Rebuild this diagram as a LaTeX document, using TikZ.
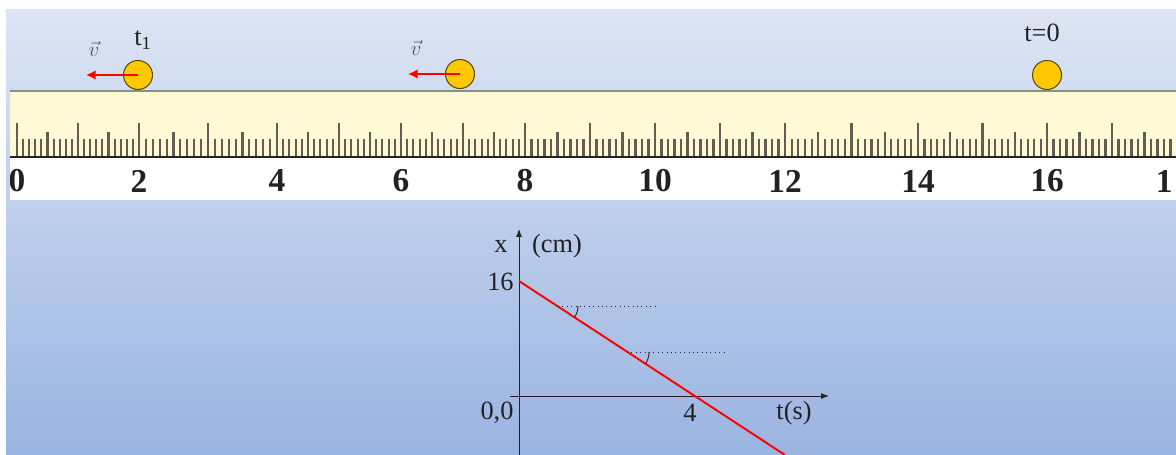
\documentclass[tikz,border=0pt]{standalone}
\usepackage{fontspec}
\setmainfont{Liberation Serif}
\usetikzlibrary{arrows.meta,positioning}
\definecolor{rlink}{HTML}{222222}
\definecolor{rlgray}{HTML}{555555}
\definecolor{pantop}{HTML}{DDE5F4}
\definecolor{panbot}{HTML}{9AB4E1}
\definecolor{rlcream}{HTML}{FFF9D6}
\definecolor{rltick}{HTML}{625D50}
\definecolor{ballfill}{HTML}{FFC800}
\definecolor{ballrim}{HTML}{5C4B10}
\tikzset{
  rl text/.style={font=\fontsize{15}{16}\selectfont, text=rlink, inner sep=0pt},
  rl num/.style={font=\fontsize{19}{20}\selectfont\bfseries, text=rlink, inner sep=0pt},
  rl ball/.style={circle, draw=ballrim, fill=ballfill, line width=0.6pt,
    minimum size=0.58cm, inner sep=0pt},
  rl vel/.style={-{Latex[length=5.5pt,width=5.5pt]}, draw=red, line width=1.6pt},
  rl vlabel/.style={font=\fontsize{13}{13}\selectfont, text=rlgray, inner sep=0pt},
  rl axis/.style={-{Latex[length=4.5pt,width=3.4pt]}, draw=rlink, line width=0.5pt},
  rl graph/.style={draw=red, line width=1.1pt},
  rl guide/.style={draw=rlink, dotted, line width=0.5pt},
  rl tick/.style={draw=rltick, line width=1.2pt}
}

\begin{document}
\begin{tikzpicture}[x=0.02cm, y=-0.02cm]
  \useasboundingbox (0,0) rectangle (1176,454);
  % background panel
  \fill[white] (0,0) rectangle (1176,454);
  \fill[top color=pantop, bottom color=panbot] (6,9) rectangle (1176,454);

  % ruler
  \begin{scope}
    \clip (10,80) rectangle (1176,200);
    \fill[rlcream] (10,91) rectangle (1176,157);
    \fill[white] (10,157) rectangle (1176,200);
    \draw[draw=black!45, line width=1.1pt] (10,91) -- (1176,91);
    \foreach \a/\b [count=\i from 0] in {17/139,139/277,277/401,401/525,525/655,
        655/785,785/918,918/1047,1047/1177} {
      \foreach \k in {0,...,19} {
        \pgfmathsetmacro{\tx}{\a+(\b-\a)*\k/20}
        \pgfmathsetmacro{\ty}{ifthenelse(mod(\k,10)==0,123,ifthenelse(mod(\k,5)==0,132,139))}
        \draw[rl tick] (\tx,157) -- (\tx,\ty);
      }
      \pgfmathtruncatemacro{\n}{2*\i}
      \node[rl num] (n\n) at (\a,181) {\n};
    }
    \node[rl num, anchor=east] (n18) at (1173,181) {1};
    \draw[draw=rlink, line width=1.3pt] (10,157) -- (1176,157);
  \end{scope}

  % balls and velocities
  \node[rl ball] (b1) at (138,75) {};
  \node[rl ball] (b2) at (460,74) {};
  \node[rl ball] (b0) at (1047,75) {};
  \coordinate (v1end) at (86,75);
  \coordinate (v2end) at (408,74);
  \draw[rl vel] (b1.center) -- (v1end);
  \draw[rl vel] (b2.center) -- (v2end);
  \node[rl vlabel] (v1) at (94,49) {$\vec{v}$};
  \node[rl vlabel] (v2) at (416,48) {$\vec{v}$};
  \node[rl text] (t1) at (143,40) {t\textsubscript{1}};
  \node[rl text] (t0) at (1042,33) {t=0};

  % x-t graph
  \coordinate (ytop) at (519,229);
  \coordinate (ybot) at (519,456);
  \coordinate (xl) at (510,396);
  \coordinate (xr) at (829,396);
  \draw[rl axis] (ybot) -- (ytop);
  \draw[rl axis] (xl) -- (xr);
  \coordinate (p0) at (519,281);
  \coordinate (p1) at (785,455);
  \draw[rl graph] (p0) -- (p1);
  \coordinate (d1a) at (558,306);
  \coordinate (d1b) at (658,306);
  \coordinate (d2a) at (627,352);
  \coordinate (d2b) at (727,352);
  \draw[rl guide] (d1a) -- (d1b);
  \draw[rl guide] (d2a) -- (d2b);
  \draw[draw=rlink, line width=0.5pt] (d1a) ++(20,0) arc[start angle=0, end angle=33, radius=20];
  \draw[draw=rlink, line width=0.5pt] (d2a) ++(22,0) arc[start angle=0, end angle=33, radius=22];
  \node[rl text] (xlab) at (501,246) {x};
  \node[rl text] (unit) at (557,246) {(cm)};
  \node[rl text, anchor=east] (y16) at (514,282) {16};
  \node[rl text] (orig) at (497,413) {0,0};
  \node[rl text] (t4) at (690,413) {4};
  \node[rl text] (tlab) at (794,413) {t(s)};
\end{tikzpicture}
\end{document}
